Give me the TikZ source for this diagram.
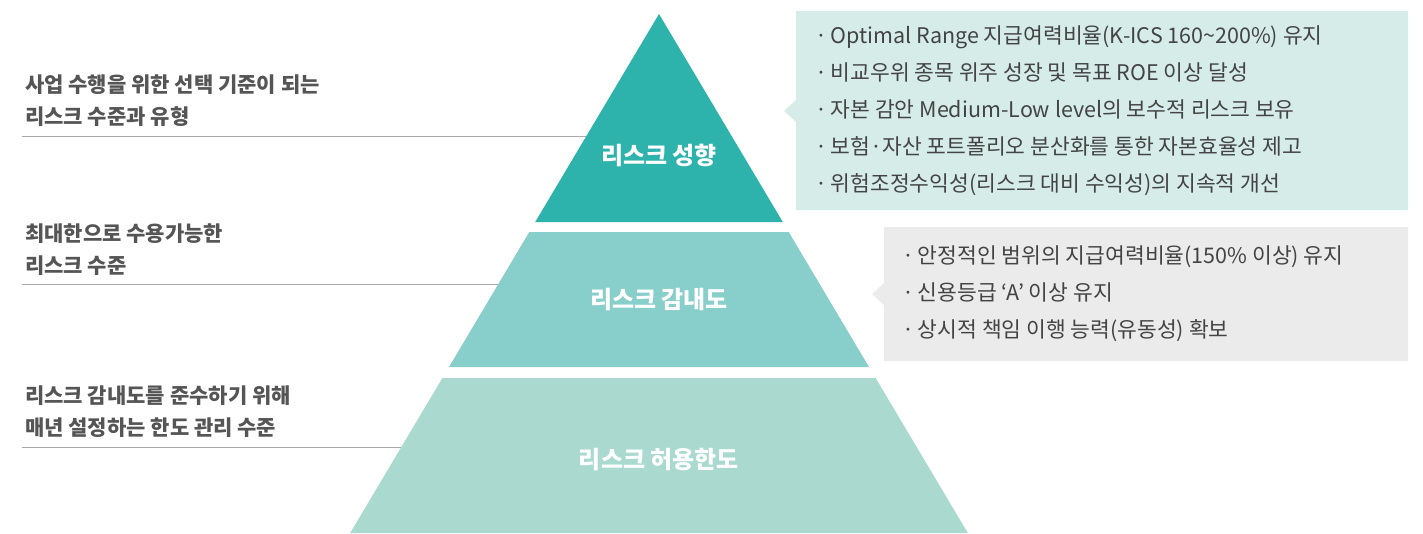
\documentclass[tikz,border=0pt]{standalone}
\usepackage{fontspec}
\setmainfont{Noto Sans CJK KR}
\usepackage{tikz}
\usetikzlibrary{positioning, calc}

\definecolor{bandtop}{HTML}{2DB3AC}
\definecolor{bandmid}{HTML}{88CECA}
\definecolor{bandlow}{HTML}{AAD9D0}
\definecolor{notemint}{HTML}{D5ECE9}
\definecolor{notegray}{HTML}{EBEBEB}
\definecolor{sidetext}{HTML}{555555}
\definecolor{notetext}{HTML}{444444}
\definecolor{guidegray}{HTML}{AAAAAA}

\begin{document}
\begin{tikzpicture}[x=1pt, y=-1pt]
    \tikzset{
        band label/.style={
                font=\fontsize{24}{28}\selectfont\bfseries, text=white, inner sep=0pt
            },
        side label/.style={
                font=\fontsize{21}{32}\selectfont\bfseries, text=sidetext,
                align=left, anchor=west, inner sep=0pt
            },
        note list/.style={
                font=\fontsize{21.5}{37}\selectfont, text=notetext,
                align=left, anchor=west, inner sep=0pt
            },
        guide line/.style={draw=guidegray, line width=1pt}
    }
    \useasboundingbox (0,0) rectangle (1423,533);

    % pyramid bands
    \fill[bandtop] (659,14) -- (782.8,222) -- (535.2,222) -- cycle;
    \fill[bandmid] (529.3,232) -- (788.7,232) -- (869,367) -- (449,367) -- cycle;
    \fill[bandlow] (442.4,378) -- (875.6,378) -- (967.8,533) -- (350.2,533) -- cycle;

    \node[band label] (appetite) at (659,155) {리스크 성향};
    \node[band label] (tolerance) at (659,300) {리스크 감내도};
    \node[band label] (limit) at (659,460) {리스크 허용한도};

    % left side descriptions
    \node[side label] (appetite text) at (25,101) {사업 수행을 위한 선택 기준이 되는\\리스크 수준과 유형};
    \node[side label] (tolerance text) at (25,250) {최대한으로 수용가능한\\리스크 수준};
    \node[side label] (limit text) at (25,412) {리스크 감내도를 준수하기 위해\\매년 설정하는 한도 관리 수준};

    \coordinate (appetite start) at (22,136);
    \coordinate (appetite edge) at (586.4,136);
    \coordinate (tolerance start) at (22,284);
    \coordinate (tolerance edge) at (498.4,284);
    \coordinate (limit start) at (22,447);
    \coordinate (limit edge) at (401.4,447);
    \draw[guide line] (appetite start) -- (appetite edge);
    \draw[guide line] (tolerance start) -- (tolerance edge);
    \draw[guide line] (limit start) -- (limit edge);

    % callouts
    \fill[notemint] (796,11) -- (1408,11) -- (1408,210) -- (796,210) -- (796,122) -- (784,111) -- (796,100) -- cycle;
    \fill[notegray] (884,227) -- (1408,227) -- (1408,361) -- (884,361) -- (884,305) -- (872,294) -- (884,283) -- cycle;

    \node[note list] (appetite notes) at (815,111) {·\,Optimal Range 지급여력비율(K-ICS 160\textasciitilde200\%) 유지\\·\,비교우위 종목 위주 성장 및 목표 ROE 이상 달성\\·\,자본 감안 Medium-Low level의 보수적 리스크 보유\\·\,보험·자산 포트폴리오 분산화를 통한 자본효율성 제고\\·\,위험조정수익성(리스크 대비 수익성)의 지속적 개선};
    \node[note list] (tolerance notes) at (902,294) {·\,안정적인 범위의 지급여력비율(150\% 이상) 유지\\·\,신용등급 ‘A’ 이상 유지\\·\,상시적 책임 이행 능력(유동성) 확보};
\end{tikzpicture}
\end{document}
